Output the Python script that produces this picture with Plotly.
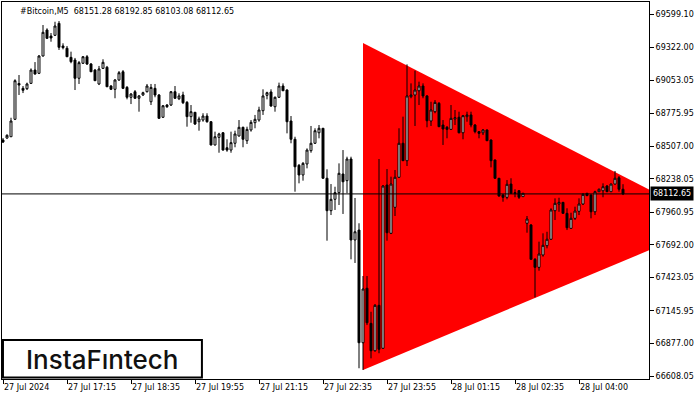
import plotly.graph_objects as go

# Bitcoin M5 candles, 27-28 Jul 2024 (one entry per bar, oldest first)
open_ = [
    68558, 68574, 68585, 68729, 69025, 68985, 68982, 69026, 69136, 69109,
    69252, 69467, 69417, 69423, 69522, 69335, 69316, 69241, 69219, 69068,
    69192, 69246, 69186, 69136, 69021, 69150, 69159, 69004, 68977, 69054,
    69122, 68993, 68911, 68957, 68903, 68930, 68957, 68874, 68985, 68930,
    68746, 68847, 68847, 68957, 68899, 68930, 68869, 68751, 68787, 68709,
    68723, 68756, 68709, 68517, 68580, 68618, 68494, 68475, 68531, 68591,
    68663, 68552, 68641, 68701, 68723, 68800, 68927, 68955, 68833, 68911,
    69004, 68971, 68715, 68564, 68349, 68269, 68360, 68470, 68531, 68618,
    68655, 68242, 67974, 68068, 68123, 68277, 68222, 68401, 67732, 67814,
    66883, 67333, 67043, 66817, 67192, 66837, 68186, 67787, 68002, 68250,
    68531, 68387, 68916, 68930, 68965, 69004, 68922, 68715, 68792, 68861,
    68682, 68663, 68646, 68732, 68746, 68618, 68751, 68765, 68682, 68627,
    68618, 68641, 68558, 68393, 68242, 68104, 68084, 68194, 68123, 68139,
    68090, 67870, 67856, 67572, 67506, 67608, 67685, 67738, 67974, 68029,
    68043, 67952, 67828, 67911, 67969, 68029, 68118, 68104, 67965, 68131,
    68139, 68178, 68131, 68194, 68246, 68151.28,
]
high = [
    68574, 68605, 68742, 69060, 69095, 69004, 69032, 69150, 69202, 69260,
    69508, 69481, 69442, 69535, 69541, 69357, 69335, 69288, 69236, 69211,
    69252, 69260, 69194, 69145, 69170, 69225, 69170, 69012, 69062, 69128,
    69136, 69004, 68946, 68971, 68930, 68957, 69021, 69021, 69021, 68938,
    68847, 68855, 68963, 69004, 68944, 68957, 68880, 68847, 68789, 68751,
    68779, 68779, 68715, 68627, 68618, 68624, 68564, 68627, 68635, 68723,
    68668, 68668, 68723, 68765, 68833, 68977, 68957, 68977, 68917, 69032,
    69026, 68977, 68756, 68585, 68360, 68376, 68489, 68674, 68655, 68682,
    68657, 68316, 68194, 68172, 68365, 68475, 68420, 68420, 68079, 67870,
    67434, 67434, 67139, 67203, 68401, 68186, 68318, 68255, 68310, 68655,
    68751, 69183, 69026, 69131, 69040, 69026, 68930, 68874, 68888, 68872,
    68723, 68674, 68847, 68806, 68792, 68765, 68792, 68792, 68690, 68632,
    68649, 68645, 68562, 68397, 68244, 68112, 68227, 68242, 68151, 68145,
    68120, 67930, 67864, 67583, 67718, 67787, 67800, 67994, 68076, 68081,
    68046, 67994, 67957, 68007, 68076, 68120, 68120, 68108, 68139, 68157,
    68200, 68186, 68198, 68302, 68260, 68192.85,
]
low = [
    68533, 68569, 68583, 68723, 68930, 68946, 68971, 69021, 69099, 69103,
    69248, 69393, 69370, 69417, 69302, 69307, 69244, 69192, 68971, 69021,
    69186, 69178, 69120, 69046, 69012, 69145, 68996, 68971, 68903, 69046,
    68979, 68894, 68855, 68897, 68792, 68922, 68951, 68847, 68911, 68734,
    68740, 68823, 68839, 68897, 68888, 68855, 68668, 68701, 68682, 68635,
    68709, 68701, 68513, 68513, 68453, 68471, 68461, 68453, 68498, 68587,
    68498, 68525, 68627, 68655, 68709, 68765, 68894, 68833, 68792, 68905,
    68963, 68613, 68531, 68131, 68200, 68222, 68324, 68453, 68525, 68572,
    68238, 67726, 67938, 67980, 68021, 67947, 68118, 67572, 67542, 66672,
    66658, 67029, 66754, 66809, 66796, 66831, 67726, 67781, 67930, 68244,
    68385, 68343, 68903, 68674, 68847, 68903, 68663, 68674, 68779, 68665,
    68517, 68572, 68641, 68682, 68613, 68564, 68709, 68663, 68613, 68572,
    68599, 68550, 68332, 68236, 68090, 68048, 68068, 68112, 68085, 68071,
    68090, 67792, 67571, 67258, 67478, 67594, 67663, 67732, 67897, 67965,
    67952, 67814, 67827, 67897, 67938, 68021, 68095, 67911, 67938, 68128,
    68085, 68128, 68128, 68190, 68131, 68103.08,
]
close = [
    68541, 68597, 68715, 69048, 69012, 68969, 69021, 69136, 69103, 69252,
    69448, 69398, 69401, 69500, 69324, 69321, 69246, 69205, 69068, 69197,
    69246, 69186, 69122, 69048, 69145, 69200, 68998, 68977, 69054, 69114,
    68985, 68911, 68938, 68903, 68922, 68949, 69004, 68993, 68930, 68737,
    68841, 68833, 68957, 68903, 68922, 68866, 68751, 68792, 68690, 68732,
    68756, 68709, 68517, 68585, 68608, 68475, 68475, 68536, 68608, 68663,
    68564, 68646, 68704, 68729, 68806, 68922, 68949, 68839, 68911, 69004,
    68965, 68709, 68564, 68337, 68269, 68365, 68475, 68531, 68635, 68655,
    68242, 67974, 68068, 68123, 68283, 68213, 68401, 67732, 67800, 66883,
    67327, 67048, 66817, 67192, 66829, 68178, 67792, 68194, 68250, 68531,
    68387, 68922, 68930, 68971, 69004, 68922, 68717, 68806, 68869, 68668,
    68649, 68646, 68737, 68742, 68618, 68759, 68765, 68682, 68627, 68613,
    68641, 68552, 68387, 68242, 68095, 68084, 68192, 68118, 68118, 68085,
    68118, 67905, 67572, 67506, 67616, 67688, 67738, 67980, 68035, 68043,
    67952, 67833, 67911, 67971, 68029, 68109, 68098, 67965, 68131, 68151,
    68172, 68131, 68194, 68242, 68151, 68112.65,
]

# Time axis: a label every 16 bars
time_tick_bars = [0, 16, 32, 48, 64, 80, 96, 112, 128, 144]
time_tick_labels = [
    "27 Jul 2024", "27 Jul 17:15", "27 Jul 18:35", "27 Jul 19:55",
    "27 Jul 21:15", "27 Jul 22:35", "27 Jul 23:55", "28 Jul 01:15",
    "28 Jul 02:35", "28 Jul 04:00",
]
price_ticks = [
    69599.10, 69322.00, 69053.05, 68775.95, 68507.00, 68238.05,
    67960.95, 67692.00, 67423.05, 67145.95, 66877.00, 66608.05,
]

# Symmetrical triangle pattern (bar index, price): upper-left, apex, lower-left
triangle_bars = [90, 177.8, 90]
triangle_prices = [69359.5, 67872.0, 66657.6]

symbol_title = "#Bitcoin,M5"
last_price = close[-1]

bars = list(range(len(close)))

fig = go.Figure()

fig.add_trace(go.Candlestick(
    x=bars, open=open_, high=high, low=low, close=close,
    increasing=dict(fillcolor="#ffffff", line=dict(color="#000000", width=1)),
    decreasing=dict(fillcolor="#000000", line=dict(color="#000000", width=1)),
    whiskerwidth=0,
    showlegend=False,
))

axis_font = dict(family="DejaVu Sans", size=8, color="#000000")

fig.update_layout(
    width=700, height=400,
    margin=dict(l=2, r=51, t=2, b=21),
    paper_bgcolor="#ffffff", plot_bgcolor="#ffffff",
    showlegend=False,
    xaxis=dict(
        range=[-0.25, 161.5],
        tickmode="array", tickvals=time_tick_bars, ticktext=time_tick_labels,
        ticks="outside", ticklen=4, tickcolor="#000000", tickwidth=1,
        ticklabelposition="outside right",
        tickfont=axis_font,
        showgrid=False, zeroline=False,
        showline=True, linecolor="#000000", linewidth=1, mirror=True,
        rangeslider=dict(visible=False),
        fixedrange=True,
    ),
    yaxis=dict(
        side="right",
        range=[66583.3, 69698.3],
        tickmode="array", tickvals=price_ticks,
        ticktext=[f"{v:.2f}" for v in price_ticks],
        ticks="outside", ticklen=4, tickcolor="#000000", tickwidth=1,
        tickfont=axis_font,
        showgrid=False, zeroline=False,
        showline=True, linecolor="#000000", linewidth=1, mirror=True,
        fixedrange=True,
    ),
)

# Triangle drawn as a filled shape beneath the candles
tri_path = "M " + " L ".join(
    f"{b},{p}" for b, p in zip(triangle_bars, triangle_prices)
) + " Z"
fig.add_shape(
    type="path", path=tri_path, xref="x", yref="y",
    fillcolor="#ff0000", line=dict(width=0), layer="below",
)

# Current price line and its label on the price scale
fig.add_shape(
    type="line", xref="paper", x0=0, x1=1, yref="y",
    y0=last_price, y1=last_price,
    line=dict(color="#000000", width=1), layer="above",
)
fig.add_annotation(
    xref="paper", x=1, xanchor="left", xshift=1,
    yref="y", y=last_price, yanchor="middle",
    text=f"{last_price:.2f}", showarrow=False,
    bgcolor="#000000", borderpad=2,
    font=dict(family="DejaVu Sans", size=8, color="#ffffff"),
)

# Chart header: symbol, timeframe and last bar OHLC
fig.add_annotation(
    xref="paper", yref="paper", x=0.0247, y=0.976,
    xanchor="left", yanchor="middle", showarrow=False,
    text=f"{symbol_title}  {open_[-1]:.2f} {high[-1]:.2f} {low[-1]:.2f} {close[-1]:.2f}",
    font=dict(family="DejaVu Sans", size=8, color="#000000"),
)

# Watermark logo box
fig.add_shape(
    type="rect", xref="paper", yref="paper",
    x0=0.0015, x1=0.309, y0=0.004, y1=0.1034,
    line=dict(color="#000000", width=2), fillcolor="#ffffff", layer="above",
)
fig.add_annotation(
    xref="paper", yref="paper", x=0.1553, y=0.053,
    xanchor="center", yanchor="middle", showarrow=False,
    text="InstaF\u0131ntech",
    font=dict(family="Inter", size=26, color="#111111", weight=500),
)

fig.write_html("out.html")
